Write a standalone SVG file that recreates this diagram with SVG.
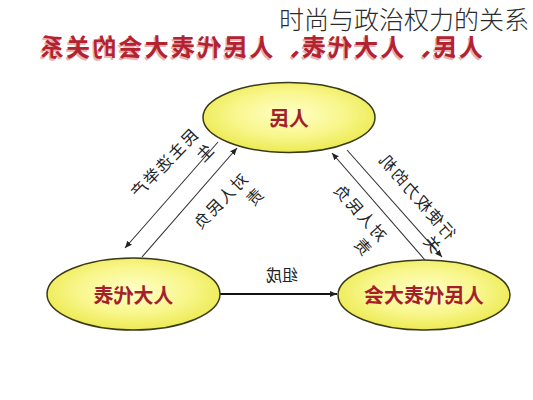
<svg xmlns="http://www.w3.org/2000/svg" width="533" height="400" viewBox="0 0 533 400">
<defs>
<radialGradient id="yel" cx="50%" cy="45%" r="55%">
<stop offset="0" stop-color="#ffffc8"/>
<stop offset="0.6" stop-color="#f8f68a"/>
<stop offset="1" stop-color="#ecea52"/>
</radialGradient>
<marker id="ah" markerUnits="userSpaceOnUse" markerWidth="8" markerHeight="8" refX="7" refY="4" orient="auto">
<path d="M0,1 L7,4 L0,7 Z" fill="#222"/>
</marker>
<style>
.node ellipse{fill:url(#yel);stroke:#3a3a16;stroke-width:1.5}
.node text{font-family:"Noto Sans CJK SC","Noto Sans",sans-serif;font-size:20px;font-weight:700;fill:#a51f2b;text-anchor:middle}
.conn line{stroke:#333;stroke-width:1.1}
.lbl{font-family:"Noto Sans CJK SC","Noto Sans",sans-serif;font-size:16px;fill:#222}
.title{font-family:"Noto Sans CJK SC","Noto Sans",sans-serif;font-size:24px;font-weight:700}
</style>
</defs>
<rect width="533" height="400" fill="#fff"/>
<g id="mirrored" transform="matrix(-1 0 0 1 533 0)">
<g id="title">
<text class="title" x="51.5" y="57.5" textLength="443" lengthAdjust="spacing" fill="#eab0b4">人民、人大代表、人民代表大会的关系</text>
<text class="title" x="50" y="56" textLength="443" lengthAdjust="spacing" fill="#b3232f">人民、人大代表、人民代表大会的关系</text>
</g>
<g id="connectors" class="conn">
<line x1="313" y1="294" x2="196" y2="294" marker-end="url(#ah)" style="stroke-width:2;stroke:#111"/>
<line x1="315" y1="142" x2="408" y2="248" marker-end="url(#ah)"/>
<line x1="391" y1="257" x2="296" y2="148" marker-end="url(#ah)"/>
<line x1="108" y1="260" x2="201" y2="153" marker-end="url(#ah)"/>
<line x1="186" y1="150" x2="91" y2="257" marker-end="url(#ah)"/>
</g>
<g id="labels">
<text class="lbl" x="251" y="281" text-anchor="middle">组成</text>
<text class="lbl" transform="translate(334,136) rotate(46)" letter-spacing="2"><tspan x="0" y="0">民主选举产</tspan><tspan x="0" y="22">生</tspan></text>
<text class="lbl" transform="translate(284,180) rotate(46)" letter-spacing="2"><tspan x="0" y="0">对人民负</tspan><tspan x="0" y="22">责</tspan></text>
<text class="lbl" transform="translate(85,241) rotate(-49)" letter-spacing="2"><tspan x="0" y="0">行使权力的机</tspan><tspan x="0" y="20">关</tspan></text>
<text class="lbl" transform="translate(153.5,242.7) rotate(-48)" letter-spacing="2"><tspan x="0" y="0">对人民负</tspan><tspan x="0" y="21">责</tspan></text>
</g>
<g id="node-renmin" class="node">
<ellipse cx="244" cy="117.5" rx="86" ry="35"/>
<text x="244" y="126">人民</text>
</g>
<g id="node-rendadaibiao" class="node">
<ellipse cx="399.5" cy="294" rx="86.5" ry="36"/>
<text x="399.5" y="303">人大代表</text>
</g>
<g id="node-renmindaibiaodahui" class="node">
<ellipse cx="109" cy="295" rx="86" ry="35"/>
<text x="109" y="303">人民代表大会</text>
</g>
</g>
<text id="overlay" x="279" y="29" font-family="'Noto Sans CJK SC',sans-serif" font-size="25" font-weight="300" fill="#2a2a2a">时尚与政治权力的关系</text>
</svg>
